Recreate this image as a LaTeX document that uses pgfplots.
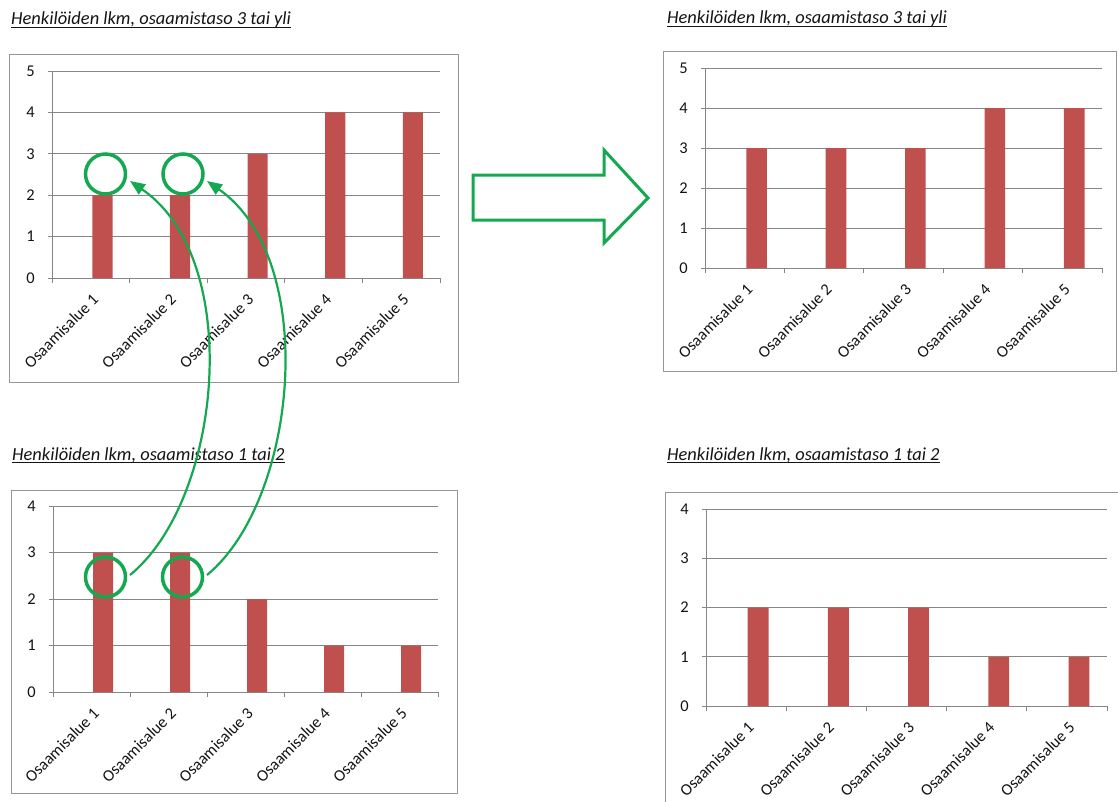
\documentclass[border=0pt]{standalone}
\usepackage{fontspec}
\setmainfont{Carlito}
\usepackage{pgfplots}
\usepackage{pgfplotstable}
\pgfplotsset{compat=1.18}
\usetikzlibrary{arrows.meta}
\definecolor{barred}{RGB}{192,80,77}
\definecolor{axgray}{RGB}{134,134,134}
\definecolor{boxgray}{RGB}{150,150,150}
\definecolor{txt}{RGB}{20,20,20}
\definecolor{grn}{RGB}{20,168,80}
\newcommand{\titlefont}{\fontsize{18.5}{21}\itshape\selectfont}

\pgfplotstableread{
x y
1 2
2 2
3 3
4 4
5 4
}\dataTL
\pgfplotstableread{
x y
1 3
2 3
3 2
4 1
5 1
}\dataBL
\pgfplotstableread{
x y
1 3
2 3
3 3
4 4
5 4
}\dataTR
\pgfplotstableread{
x y
1 2
2 2
3 2
4 1
5 1
}\dataBR

\pgfplotsset{
  excel/.style={
    scale only axis, anchor=south west,
    xmin=0.5, xmax=5.5, ymin=0,
    axis x line*=bottom, axis y line*=left,
    axis line style={draw=axgray, line width=1bp, -},
    ymajorgrids, grid style={draw=axgray, line width=1bp},
    tick align=outside,
    xtick={1.07,2.07,3.07,4.07,5.07},
    xticklabels={Osaamisalue 1,Osaamisalue 2,Osaamisalue 3,Osaamisalue 4,Osaamisalue 5},
    major x tick style={draw=none},
    minor xtick={0.5,1.5,2.5,3.5,4.5,5.5},
    minor tick length=5bp, major tick length=4bp,
    tick style={draw=axgray, line width=1bp},
    /pgf/number format/assume math mode=true,
    ticklabel style={font=\fontsize{16.5}{19}\selectfont, text=txt},
    xticklabel style={rotate=45, anchor=east, inner sep=1bp},
    xticklabel shift=14bp,
    yticklabel style={inner sep=0bp},
    yticklabel shift=13bp,
    ybar, bar width=0.26, bar shift=0.15,
    clip=false,
  },
  bars/.style={fill=barred, draw=none},
}

\begin{document}
\begin{tikzpicture}
\begin{scope}[x=1bp,y=-1bp]
\useasboundingbox (0,0) rectangle (1118,802);
\fill[white] (0,0) rectangle (1118,802);
% frames
\draw[boxgray, line width=1bp] (9,55) rectangle (458,382);
\draw[boxgray, line width=1bp] (11,490) rectangle (457,793);
\draw[boxgray, line width=1bp] (663,52) rectangle (1116,371);
\draw[boxgray, line width=1bp] (665,492) rectangle (1130,815);
% titles
\node (t1) [anchor=base west, inner sep=0, text=txt, font=\titlefont] at (11,25) {Henkilöiden lkm, osaamistaso 3 tai yli};
\node (t2) [anchor=base west, inner sep=0, text=txt, font=\titlefont] at (12,460) {Henkilöiden lkm, osaamistaso 1 tai 2};
\node (t3) [anchor=base west, inner sep=0, text=txt, font=\titlefont] at (667,24) {Henkilöiden lkm, osaamistaso 3 tai yli};
\node (t4) [anchor=base west, inner sep=0, text=txt, font=\titlefont] at (667,460) {Henkilöiden lkm, osaamistaso 1 tai 2};
\foreach \t in {t1,t2,t3,t4}{
  \draw[txt, line width=1bp] ([yshift=-2.5bp]\t.base west) -- ([yshift=-2.5bp]\t.base east);
}
\end{scope}

\begin{axis}[excel, at={(52bp,-278bp)}, width=388bp, height=207bp, ymax=5, ytick={0,1,2,3,4,5}]
\addplot[bars] table {\dataTL};
\end{axis}
\begin{axis}[excel, at={(53bp,-692bp)}, width=385bp, height=186bp, ymax=4, ytick={0,1,2,3,4}]
\addplot[bars] table {\dataBL};
\end{axis}
\begin{axis}[excel, at={(705bp,-268bp)}, width=397bp, height=200bp, ymax=5, ytick={0,1,2,3,4,5}]
\addplot[bars] table {\dataTR};
\end{axis}
\begin{axis}[excel, at={(706bp,-706bp)}, width=401bp, height=197bp, ymax=4, ytick={0,1,2,3,4}]
\addplot[bars] table {\dataBR};
\end{axis}

\begin{scope}[x=1bp,y=-1bp]
% circles
\draw[grn, line width=3.5bp] (105.5,174) circle[radius=20];
\draw[grn, line width=3.5bp] (183,174) circle[radius=20];
\draw[grn, line width=3.5bp] (105.5,577) circle[radius=20];
\draw[grn, line width=3.5bp] (182.5,577) circle[radius=20];
% curved arrows
\draw[grn, line width=2.2bp, -{Triangle[length=15bp,width=12bp]}] (130,575) .. controls (222,500) and (245,260) .. (130,181);
\draw[grn, line width=2.2bp, -{Triangle[length=15bp,width=12bp]}] (207,575) .. controls (298,500) and (320,260) .. (207,181);
% hollow arrow
\draw[grn, line width=3bp, line join=miter] (473,175) -- (604,175) -- (604,150) -- (648,198) -- (604,243) -- (604,220) -- (473,220) -- cycle;
\end{scope}
\end{tikzpicture}
\end{document}
